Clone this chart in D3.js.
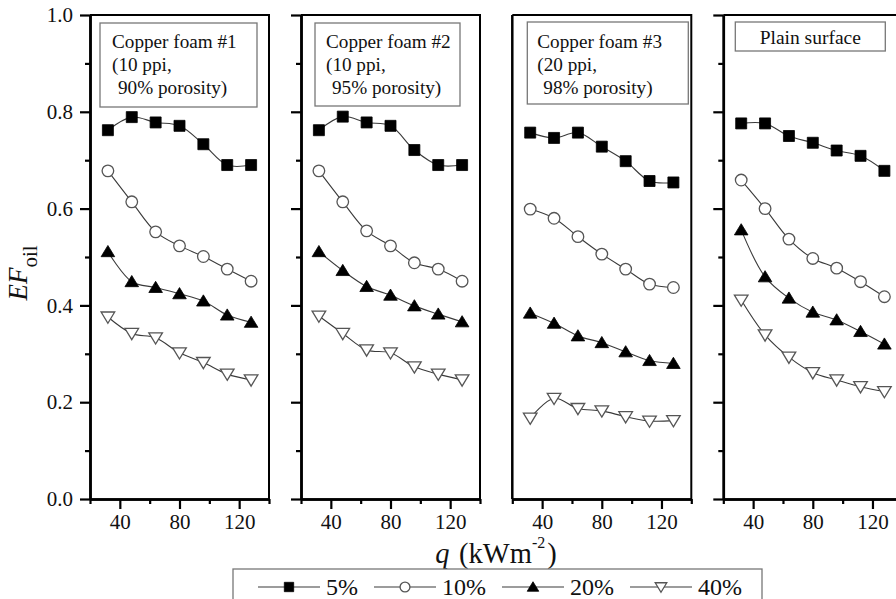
<!DOCTYPE html>
<html>
<head>
<meta charset="utf-8">
<script src="https://cdn.jsdelivr.net/npm/d3@7"></script>
<style>
  html, body { margin: 0; padding: 0; background: #fff; }
  svg { display: block; font-family: "Liberation Serif", Tinos, "Times New Roman", Times, serif; }
</style>
</head>
<body>
<svg id="chart" width="896" height="599"></svg>
<script>
// Heat flux q (kW m^-2) at which EF_oil was measured
const heatFlux = [32, 48, 64, 80, 96, 112, 128];

// Oil concentrations, one series each
const seriesNames = ["5%", "10%", "20%", "40%"];

// EF_oil per surface; rows follow seriesNames
const foam1 = [
  [0.762, 0.789, 0.778, 0.771, 0.733, 0.690, 0.690],
  [0.678, 0.614, 0.552, 0.523, 0.501, 0.475, 0.450],
  [0.511, 0.449, 0.437, 0.424, 0.409, 0.380, 0.365],
  [0.376, 0.342, 0.333, 0.302, 0.282, 0.258, 0.246]
];
const foam2 = [
  [0.762, 0.790, 0.778, 0.771, 0.721, 0.690, 0.690],
  [0.678, 0.614, 0.554, 0.523, 0.488, 0.475, 0.450],
  [0.511, 0.472, 0.439, 0.421, 0.399, 0.382, 0.366],
  [0.378, 0.342, 0.308, 0.302, 0.273, 0.258, 0.246]
];
const foam3 = [
  [0.757, 0.746, 0.757, 0.728, 0.698, 0.657, 0.654],
  [0.599, 0.580, 0.542, 0.506, 0.475, 0.444, 0.437],
  [0.384, 0.363, 0.337, 0.323, 0.304, 0.286, 0.280],
  [0.167, 0.208, 0.187, 0.182, 0.170, 0.161, 0.162]
];
const plain = [
  [0.776, 0.776, 0.750, 0.736, 0.720, 0.709, 0.678],
  [0.659, 0.600, 0.537, 0.497, 0.477, 0.449, 0.418],
  [0.556, 0.459, 0.415, 0.386, 0.370, 0.346, 0.320],
  [0.411, 0.339, 0.293, 0.261, 0.246, 0.232, 0.222]
];

// Surface descriptions shown in each panel's label box
const panelTitles = [
  ["Copper foam #1", "(10 ppi,", "90% porosity)"],
  ["Copper foam #2", "(10 ppi,", "95% porosity)"],
  ["Copper foam #3", "(20 ppi,", "98% porosity)"],
  ["Plain surface"]
];

// Axis ticks
const yMajorTicks = [0.0, 0.2, 0.4, 0.6, 0.8, 1.0];
const yMinorTicks = [0.1, 0.3, 0.5, 0.7, 0.9];
const xMajorTicks = [40, 80, 120];
const xMinorTicks = [20, 60, 100, 140];

const panelData = [foam1, foam2, foam3, plain];

// ---- layout ----
const plotTop = 15, plotBottom = 499;
const firstLeft = 90, panelWidth = 179, panelStep = 211;
const panelLeft = i => firstLeft + i * panelStep + (i >= 2 ? 0.3 : 0);
// label box geometry, relative to each panel's left edge
const boxLayout = [
  { dx: 10, w: 157, y: 23, h: 84, tx: 22 },
  { dx: 14, w: 145, y: 23, h: 83, tx: 25 },
  { dx: 15, w: 161, y: 22, h: 82, tx: 25 },
  { dx: 12, w: 150, y: 22, h: 29, tx: null }
];
// which panels carry a ticked y axis / tick labels
const yAxisMode = ["labels", "ticks", "none", "ticks"];

const svg = d3.select("#chart");
const y = d3.scaleLinear().domain([0, 1]).range([plotBottom, plotTop]);

const lineColor = "#3a3a3a";
const openStroke = "#555";

function markerPath(kind, k) {
  if (kind === 0) { const s = 5.5 * k; return `M${-s},${-s}H${s}V${s}H${-s}Z`; }
  if (kind === 2) { return `M0,${-6.2 * k}L${6.8 * k},${5 * k}L${-6.8 * k},${5 * k}Z`; }
  if (kind === 3) { return `M0,${6.2 * k}L${6.8 * k},${-5 * k}L${-6.8 * k},${-5 * k}Z`; }
  return null;
}
function drawMarker(g, kind, cx, cy, k = 1) {
  if (kind === 1) {
    g.append("circle").attr("cx", cx).attr("cy", cy).attr("r", 5.8 * k)
      .attr("fill", "#fff").attr("stroke", openStroke).attr("stroke-width", 1.3);
  } else {
    const filled = kind === 0 || kind === 2;
    g.append("path").attr("d", markerPath(kind, k))
      .attr("transform", `translate(${cx},${cy})`)
      .attr("fill", filled ? "#000" : "#fff")
      .attr("stroke", filled ? "#000" : openStroke)
      .attr("stroke-width", filled ? 0.8 : 1.3)
      .attr("stroke-linejoin", "miter");
  }
}

panelData.forEach((series, i) => {
  const left = panelLeft(i);
  const x = d3.scaleLinear().domain([20, 140]).range([left, left + panelWidth]);
  const g = svg.append("g");

  // frame: top and right borders
  g.append("path")
    .attr("d", `M${left},${plotTop}H${left + panelWidth}V${plotBottom}`)
    .attr("fill", "none").attr("stroke", "#000").attr("stroke-width", 2);

  // bottom axis with major and minor ticks
  const xMajor = d3.axisBottom(x).tickValues(xMajorTicks).tickSize(10).tickSizeOuter(0).tickPadding(6);
  const xMinor = d3.axisBottom(x).tickValues(xMinorTicks).tickSize(5).tickSizeOuter(0).tickFormat("");
  const gxMinor = g.append("g").attr("transform", `translate(0,${plotBottom})`).call(xMinor);
  const gx = g.append("g").attr("transform", `translate(0,${plotBottom})`).call(xMajor);
  [gx, gxMinor].forEach(a => {
    a.attr("font-family", null);
    a.select(".domain").attr("stroke", "#000").attr("stroke-width", 2.5);
    a.selectAll(".tick line").attr("stroke", "#000").attr("stroke-width", 2.2);
  });
  gx.selectAll(".tick text")
    .attr("font-size", 21).attr("fill", "#111")
    .attr("dy", "0.66em");

  // left axis
  if (yAxisMode[i] === "none") {
    g.append("line").attr("x1", left).attr("x2", left).attr("y1", plotTop).attr("y2", plotBottom)
      .attr("stroke", "#000").attr("stroke-width", 2.5);
  } else {
    const yMajor = d3.axisLeft(y).tickValues(yMajorTicks).tickSize(10).tickSizeOuter(0).tickPadding(7)
      .tickFormat(yAxisMode[i] === "labels" ? d3.format(".1f") : "");
    const yMinor = d3.axisLeft(y).tickValues(yMinorTicks).tickSize(5).tickSizeOuter(0).tickFormat("");
    const gyMinor = g.append("g").attr("transform", `translate(${left},0)`).call(yMinor);
    const gy = g.append("g").attr("transform", `translate(${left},0)`).call(yMajor);
    [gy, gyMinor].forEach(a => {
      a.attr("font-family", null);
      a.select(".domain").attr("stroke", "#000").attr("stroke-width", 2.5);
      a.selectAll(".tick line").attr("stroke", "#000").attr("stroke-width", 2.2);
    });
    gy.selectAll(".tick text").attr("font-size", 21).attr("fill", "#111");
  }

  // label box
  const b = boxLayout[i];
  g.append("rect").attr("x", left + b.dx).attr("y", b.y).attr("width", b.w).attr("height", b.h)
    .attr("fill", "#fff").attr("stroke", "#777").attr("stroke-width", 1.3);
  const lines = panelTitles[i];
  if (lines.length === 1) {
    g.append("text").attr("x", left + b.dx + b.w / 2).attr("y", b.y + 21.5)
      .attr("text-anchor", "middle").attr("font-size", 19.5).attr("fill", "#111").text(lines[0]);
  } else {
    lines.forEach((t, k) => {
      g.append("text").attr("x", left + b.tx + (k === 2 ? 6 : 0)).attr("y", 47.5 + k * 23)
        .attr("font-size", 19.2).attr("fill", "#111").text(t);
    });
  }

  // series: smooth connecting line, then markers
  const line = d3.line().x(d => x(d[0])).y(d => y(d[1])).curve(d3.curveCatmullRom.alpha(0.5));
  series.forEach((vals) => {
    const pts = heatFlux.map((q, k) => [q, vals[k]]);
    g.append("path").attr("d", line(pts)).attr("fill", "none")
      .attr("stroke", lineColor).attr("stroke-width", 1.1);
  });
  series.forEach((vals, s) => {
    heatFlux.forEach((q, k) => drawMarker(g, s, x(q), y(vals[k])));
  });
});

// y-axis title: EF_oil
svg.append("text")
  .attr("transform", "translate(27,273) rotate(-90)")
  .attr("text-anchor", "middle")
  .attr("fill", "#111")
  .call(t => {
    t.append("tspan").attr("font-style", "italic").attr("font-size", 27).text("EF");
    t.append("tspan").attr("font-size", 21).attr("dy", 10).text("oil");
  });

// x-axis title: q (kWm^-2)
svg.append("text")
  .attr("x", 496).attr("y", 563)
  .attr("text-anchor", "middle")
  .attr("fill", "#111")
  .attr("font-size", 28.5)
  .call(t => {
    t.append("tspan").attr("font-style", "italic").text("q");
    t.append("tspan").attr("dx", 2.5).text(" (kWm");
    t.append("tspan").attr("font-size", 16).attr("dy", -15).text("-2");
    t.append("tspan").attr("dx", 2).attr("dy", 15).text(")");
  });

// legend
const legend = svg.append("g");
legend.append("rect").attr("x", 233).attr("y", 569).attr("width", 529).attr("height", 45)
  .attr("fill", "#fff").attr("stroke", "#777").attr("stroke-width", 1.3);
let lx = 258;
seriesNames.forEach((name, s) => {
  const cy = 587;
  legend.append("line").attr("x1", lx).attr("x2", lx + 62).attr("y1", cy).attr("y2", cy)
    .attr("stroke", lineColor).attr("stroke-width", 1.1);
  drawMarker(legend, s, lx + 31, cy, 0.85);
  const txt = legend.append("text").attr("x", lx + 68).attr("y", 595)
    .attr("font-size", 24).attr("fill", "#111").text(name);
  lx += 68 + txt.node().getComputedTextLength() + 16;
});
</script>
</body>
</html>
